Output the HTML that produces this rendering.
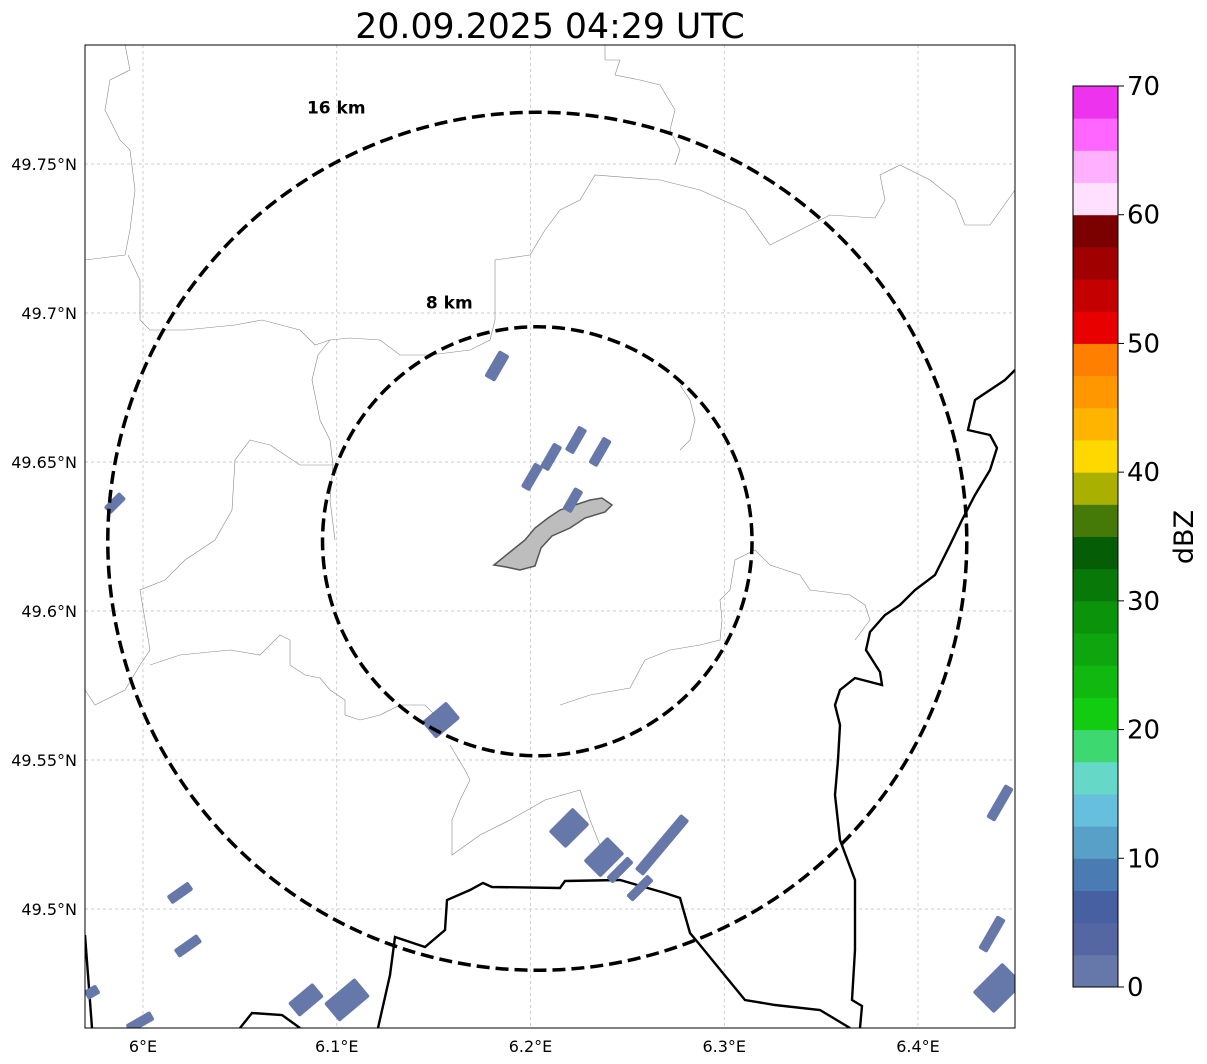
<!DOCTYPE html>
<html><head><meta charset="utf-8"><style>
body{margin:0;background:#fff;}
svg{display:block;font-family:"DejaVu Sans","Liberation Sans",sans-serif;}
</style></head><body>
<svg id="chart" width="1207" height="1064">
<defs><clipPath id="mapclip"><rect x="85" y="45" width="930" height="983"/></clipPath></defs>
<text x="550" y="38" font-size="34.7" text-anchor="middle">20.09.2025 04:29 UTC</text>
<g id="map" clip-path="url(#mapclip)"></g>
<rect x="85" y="45" width="930" height="983" fill="none" stroke="#000" stroke-width="1"/>
<g id="axes"></g>
<g id="cbar"></g>
<text x="1193" y="537" font-size="27" text-anchor="middle" transform="rotate(-90 1193 537)">dBZ</text>
</svg>
<script>
const lonTicks=[6.0,6.1,6.2,6.3,6.4];
const lonLabels=["6°E","6.1°E","6.2°E","6.3°E","6.4°E"];
const latTicks=[49.75,49.7,49.65,49.6,49.55,49.5];
const latLabels=["49.75°N","49.7°N","49.65°N","49.6°N","49.55°N","49.5°N"];
const echoLon=[6.1827,6.2235,6.2106,6.2359,6.2008,6.2219,5.9855,6.1538,6.2199,6.2379,6.2462,6.2679,6.2565,6.0191,6.0232,6.0841,6.1053,6.4423,6.4382,6.4413,5.9737,5.9985];
const echoLat=[49.6822,49.6574,49.6517,49.6534,49.645,49.6372,49.6362,49.5634,49.5272,49.5174,49.5131,49.5215,49.507,49.5054,49.4876,49.4695,49.4695,49.5356,49.4916,49.4735,49.4721,49.462];
const echoDbz=[2,2,2,2,2,2,2,2,2,2,2,2,2,2,2,2,2,2,2,2,2,2];
const echoLen=[30,28,28,30,28,25,22,32,34,34,30,72,30,26,28,32,40,38,38,42,14,28];
const echoWid=[12,10,10,10,10,10,10,22,24,24,9,11,9,10,10,18,24,10,10,30,10,10];
const echoAng=[-60,-60,-60,-60,-60,-60,-45,-40,-45,-45,-45,-50,-45,-35,-35,-40,-40,-60,-60,-45,-30,-30];
const rangeKm=[8,16];
const cbarEdges=[0,2.5,5,7.5,10,12.5,15,17.5,20,22.5,25,27.5,30,32.5,35,37.5,40,42.5,45,47.5,50,52.5,55,57.5,60,62.5,65,67.5,70];
const cbarColors=["#6677aa","#5567a2","#4660a2","#4a7bb2","#58a0c8","#66c0dd","#66d8c8","#3dd870","#11cc11","#10b810","#0fa50f","#0c930c","#087808","#055e05","#457a08","#aab000","#ffd800","#ffb400","#ff9800","#ff7f00","#e80000","#c40000","#a00000","#7b0000","#ffe0ff","#ffb0ff","#ff66ff","#ee33ee"];
const cbarTicks=[0,10,20,30,40,50,60,70];

const NS="http://www.w3.org/2000/svg";
function X(lon){return 143+(lon-6.0)*1937.5;}
function Y(lat){return 164+(49.75-lat)*2980;}
function CY(v){return 987-(v/70)*901;}
function mk(tag,at,parent){const e=document.createElementNS(NS,tag);for(const k in at)e.setAttribute(k,at[k]);parent.appendChild(e);return e;}
const map=document.getElementById('map'),axes=document.getElementById('axes'),cbar=document.getElementById('cbar');

lonTicks.forEach((t,i)=>{
 const l=mk('line',{x1:X(t),x2:X(t),y1:45,y2:1028,stroke:'#bbb','stroke-width':0.7,'stroke-dasharray':'3,3'},map);
 
 
 const tx=mk('text',{x:X(t),y:1052,'font-size':16,'text-anchor':'middle'},axes);tx.textContent=lonLabels[i];
 
 
});
latTicks.forEach((t,i)=>{
 const l=mk('line',{x1:85,x2:1015,y1:Y(t),y2:Y(t),stroke:'#bbb','stroke-width':0.7,'stroke-dasharray':'3,3'},map);
 
 
 const tx=mk('text',{x:77,y:Y(t)+6,'font-size':16,'text-anchor':'end'},axes);tx.textContent=latLabels[i];
 
 
});

const thin=[
"M85,260 L125,255 L130,230 L135,190 L130,150 L120,140 L105,110 L110,80 L130,70 L125,45",
"M128,255 L140,280 L140,320 L150,330 L185,330 L235,325 L262,320 L300,330 L315,345 L330,340 L350,338 L380,340 L400,355 L430,355 L470,350 L490,340 L495,320 L495,260 L530,255 L545,230 L560,210 L580,200 L595,175 L660,180 L700,190 L745,210 L770,245 L790,235 L830,215 L875,218 L885,200 L880,175 L900,165 L930,180 L955,200 L965,225 L990,225 L1015,190",
"M605,45 L605,60 L620,60 L615,75 L640,80 L660,85 L675,110 L670,130 L680,150 L675,165",
"M330,340 L318,355 L312,380 L320,420 L330,440 L333,465 L300,465 L270,445 L250,440 L235,460 L232,510 L215,540 L185,560 L165,580 L140,590 L145,620 L150,650 L140,665 L125,690 L95,705 L85,690",
"M333,465 L330,500 L335,540",
"M150,665 L180,655 L230,650 L260,655 L280,635 L290,640 L290,665 L305,675 L320,678 L330,690 L345,700 L345,715 L360,720 L380,715 L400,705 L425,705 L435,715",
"M450,745 L465,770 L470,780 L460,800 L452,820 L452,855 L480,835 L510,820 L545,800 L580,790 L590,820 L600,845",
"M560,705 L590,695 L630,688 L645,660 L670,650 L700,645 L720,640 L722,620 L720,600 L730,590 L735,560 L755,550 L770,565 L800,575 L810,590 L850,595 L865,605 L870,620 L855,640",
"M680,385 L690,400 L695,420 L690,440 L680,450"
];
thin.forEach(d=>{const p=mk('path',{d:d,fill:'none',stroke:'#888','stroke-width':0.6},map);
 
 });

const thick=[
"M1015,370 L1005,380 L975,400 L968,430 L990,435 L997,448 L990,470 L975,495 L962,520 L950,545 L935,575 L915,590 L900,605 L885,615 L870,632 L866,650 L880,672 L882,685 L855,678 L840,690 L835,705 L840,725 L838,760 L835,795 L840,840 L855,880 L855,950 L852,1000 L862,1006 L860,1028",
"M85,935 L92,1028",
"M240,1028 L252,1013 L282,1015 L300,1028",
"M378,1028 L390,975 L395,937 L425,947 L445,930 L447,900 L470,890 L483,883 L492,887 L560,888 L565,881 L620,880 L665,893 L680,898 L690,933 L700,945 L722,972 L745,1000 L775,1005 L820,1010 L850,1028"
];
thick.forEach(d=>{const p=mk('path',{d:d,fill:'none',stroke:'#000','stroke-width':2.4},map);
 
 });

const city=mk('path',{d:"M494,565 L510,552 L525,540 L535,528 L548,518 L560,510 L575,505 L590,500 L602,498 L612,505 L605,512 L585,518 L570,528 L552,536 L541,548 L535,566 L520,570 L506,567 Z",fill:'#bdbdbd',stroke:'#555','stroke-width':1.5},map);



function colorFor(v){for(let i=0;i<cbarColors.length;i++){if(v<cbarEdges[i+1])return cbarColors[i];}return cbarColors[cbarColors.length-1];}
echoLon.forEach((lo,i)=>{
 const cx=X(lo),cy=Y(echoLat[i]);
 const r=mk('rect',{x:cx-echoLen[i]/2,y:cy-echoWid[i]/2,width:echoLen[i],height:echoWid[i],rx:2,fill:colorFor(echoDbz[i]),transform:`rotate(${echoAng[i]} ${cx} ${cy})`},map);
 
 
});

const cLon=6.2035,cLat=49.6234;
const kmPxX=429.5/16, kmPxY=429/16;
const labDx={8:-88,16:-201}, labDy={8:-233,16:-428};
rangeKm.forEach(k=>{
 const e=mk('ellipse',{cx:X(cLon),cy:Y(cLat),rx:k*kmPxX,ry:k*kmPxY,fill:'none',stroke:'#000','stroke-width':3.5,'stroke-dasharray':'13,6'},map);
 
 
 const t=mk('text',{x:X(cLon)+labDx[k],y:Y(cLat)+labDy[k],'font-size':17,'font-weight':'bold','text-anchor':'middle'},map);
 t.textContent=k+' km';
 
 
});

cbarColors.forEach((c,i)=>{
 const y1=CY(cbarEdges[i+1]),y0=CY(cbarEdges[i]);
 const r=mk('rect',{x:1073,y:y1,width:45,height:y0-y1+0.5,fill:c},cbar);
 
 
});
mk('rect',{x:1073,y:86,width:45,height:901,fill:'none',stroke:'#000','stroke-width':1},cbar);
cbarTicks.forEach(t=>{
 mk('line',{x1:1118,x2:1124,y1:CY(t),y2:CY(t),stroke:'#000'},cbar);
 const tx=mk('text',{x:1127,y:CY(t)+9,'font-size':26},cbar);tx.textContent=t;
 
 
});
</script>
</body></html>
